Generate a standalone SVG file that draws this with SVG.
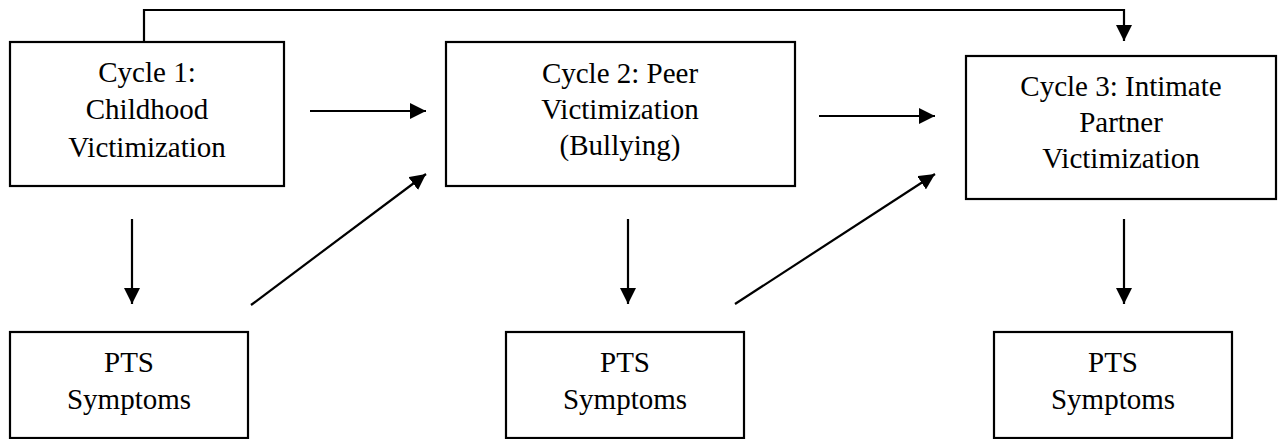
<svg xmlns="http://www.w3.org/2000/svg" width="1279" height="439" viewBox="0 0 1279 439">
<style>
.box{fill:#fff;stroke:#000;stroke-width:2.2}
.t{font-family:"Liberation Serif","Times New Roman",serif;font-size:29px;fill:#000;text-anchor:middle}
.c{stroke:#000;stroke-width:2.2;fill:none}
</style>
<defs>
<marker id="ah" markerUnits="userSpaceOnUse" markerWidth="17" markerHeight="16" refX="16" refY="8" orient="auto">
<path d="M0,0 L16,8 L0,16 Z" fill="#000"/>
</marker>
</defs>
<rect width="1279" height="439" fill="#fff"/>
<g id="connectors">
<polyline class="c" points="144,42 144,10 1124,10 1124,41" marker-end="url(#ah)"/>
<line class="c" x1="310" y1="111" x2="426" y2="111" marker-end="url(#ah)"/>
<line class="c" x1="819" y1="116" x2="935" y2="116" marker-end="url(#ah)"/>
<line class="c" x1="251" y1="305" x2="426" y2="174" marker-end="url(#ah)"/>
<line class="c" x1="735" y1="304" x2="935" y2="174" marker-end="url(#ah)"/>
<line class="c" x1="132" y1="219" x2="132" y2="304" marker-end="url(#ah)"/>
<line class="c" x1="628" y1="219" x2="628" y2="304" marker-end="url(#ah)"/>
<line class="c" x1="1124" y1="219" x2="1124" y2="304" marker-end="url(#ah)"/>
</g>
<g id="cycle1">
<rect class="box" x="10" y="42" width="274" height="144"/>
<text class="t" x="147" y="82">Cycle 1:</text>
<text class="t" x="147" y="119">Childhood</text>
<text class="t" x="147" y="157">Victimization</text>
</g>
<g id="cycle2">
<rect class="box" x="446" y="42" width="349" height="144"/>
<text class="t" x="620" y="83">Cycle 2: Peer</text>
<text class="t" x="620" y="119">Victimization</text>
<text class="t" x="620" y="155">(Bullying)</text>
</g>
<g id="cycle3">
<rect class="box" x="966" y="56" width="310" height="143"/>
<text class="t" x="1121" y="96">Cycle 3: Intimate</text>
<text class="t" x="1121" y="132">Partner</text>
<text class="t" x="1121" y="168">Victimization</text>
</g>
<g id="pts1">
<rect class="box" x="10" y="332" width="238" height="106"/>
<text class="t" x="129" y="372">PTS</text>
<text class="t" x="129" y="409">Symptoms</text>
</g>
<g id="pts2">
<rect class="box" x="506" y="332" width="238" height="106"/>
<text class="t" x="625" y="372">PTS</text>
<text class="t" x="625" y="409">Symptoms</text>
</g>
<g id="pts3">
<rect class="box" x="994" y="332" width="238" height="106"/>
<text class="t" x="1113" y="372">PTS</text>
<text class="t" x="1113" y="409">Symptoms</text>
</g>
</svg>
